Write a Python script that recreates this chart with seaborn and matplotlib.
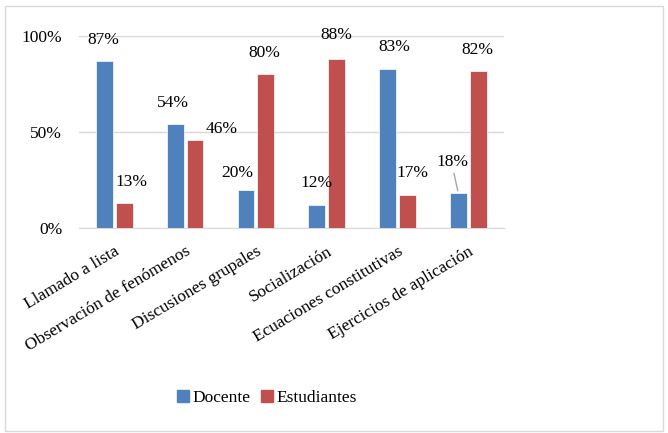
import matplotlib.pyplot as plt
import matplotlib.patches as mpatches
import seaborn as sns
import pandas as pd

categorias = ['Llamado a lista', 'Observación de fenómenos', 'Discusiones grupales',
              'Socialización', 'Ecuaciones constitutivas', 'Ejercicios de aplicación']
docente = [0.87, 0.54, 0.20, 0.12, 0.83, 0.18]
estudiantes = [0.13, 0.46, 0.80, 0.88, 0.17, 0.82]
series = ['Docente', 'Estudiantes']

# label offsets in pixels (dx, dy) relative to top of each bar
off_docente = [(-1, 21), (-2, 21), (-9, 17), (0, 22), (7, 22), (-6, 31)]
off_estudiantes = [(7, 21), (27, 11), (-1, 21), (0, 24), (5, 22), (-1, 21)]

df = pd.DataFrame({
    'categoria': categorias * 2,
    'serie': [series[0]] * len(categorias) + [series[1]] * len(categorias),
    'valor': docente + estudiantes,
})

sns.set_style('white')
plt.rcParams['font.family'] = ['Liberation Serif', 'DejaVu Serif']
plt.rcParams['text.color'] = 'black'
plt.rcParams['xtick.color'] = 'black'
plt.rcParams['ytick.color'] = 'black'
fs = 12.5

fig = plt.figure(figsize=(6.68, 4.33), dpi=100)
ax = fig.add_axes([0.118, 0.4734, 0.636, 0.4435])

sns.barplot(data=df, x='categoria', y='valor', hue='serie', hue_order=series,
            palette=['#4F81BD', '#C0504D'], saturation=1, width=0.56, gap=0.15,
            edgecolor='white', linewidth=0.5, ax=ax, zorder=3)

ax.set_ylim(0, 1)
ax.set_yticks([0, 0.5, 1])
ax.set_yticklabels(['0%', '50%', '100%'], fontsize=fs)
ax.grid(axis='y', color='#D9D9D9', linewidth=1, zorder=0)
ax.set_axisbelow(True)
for s in ['top', 'right', 'left']:
    ax.spines[s].set_visible(False)
ax.spines['bottom'].set_color('#D9D9D9')
ax.tick_params(axis='y', length=0, pad=12)
ax.tick_params(axis='x', length=0, pad=11)
ax.set_xlabel('')
ax.set_ylabel('')
plt.setp(ax.get_xticklabels(), rotation=31, ha='right', rotation_mode='anchor', fontsize=fs)

for cont, vals, offs in zip(ax.containers, [docente, estudiantes], [off_docente, off_estudiantes]):
    for bar, v, (dx, dy) in zip(cont, vals, offs):
        x = bar.get_x() + bar.get_width() / 2
        ax.annotate(f'{round(v * 100)}%', (x, v), xytext=(dx, dy), textcoords='offset pixels',
                    ha='center', va='center', fontsize=fs, annotation_clip=False)

# leader line for the 18% label
b = ax.containers[0][5]
bx = b.get_x() + b.get_width() / 2
ax.annotate('', (bx, docente[5]), xytext=(-5, 23), textcoords='offset pixels',
            arrowprops=dict(arrowstyle='-', color='#A6A6A6', lw=1), annotation_clip=False)

ax.legend_.remove()
handles = [mpatches.Patch(color=c, label=l) for c, l in zip(['#4F81BD', '#C0504D'], series)]
fig.legend(handles=handles, loc='center', bbox_to_anchor=(0.40, 0.081), ncol=2, frameon=False,
           fontsize=fs, handlelength=0.7, handleheight=0.7, handletextpad=0.2, columnspacing=0.6)

fig.patches.append(mpatches.Rectangle((0.007, 0.005), 0.986, 0.98, transform=fig.transFigure,
                                      fill=False, edgecolor='#D9D9D9', linewidth=1))

fig.savefig('out.png', dpi=100)
